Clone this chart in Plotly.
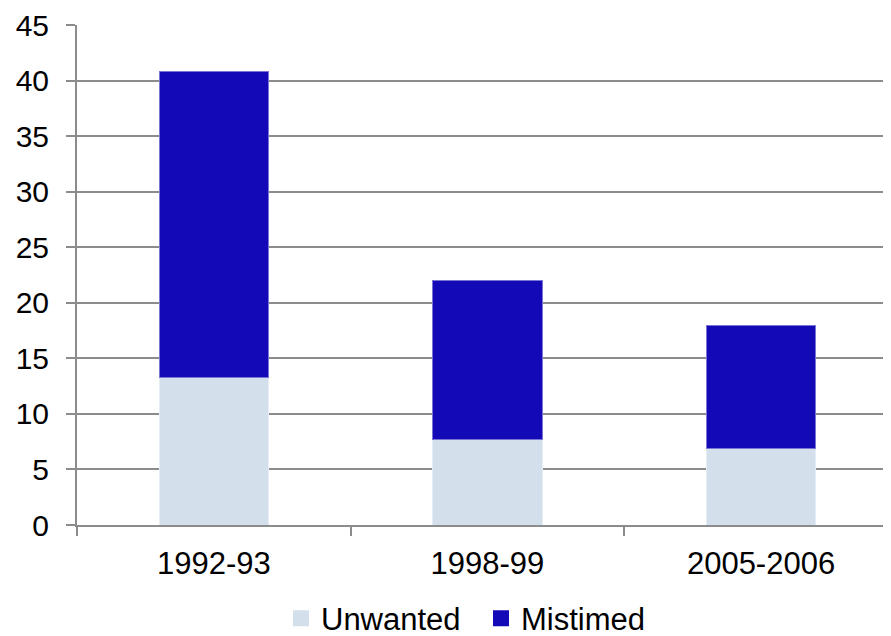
import plotly.graph_objects as go

categories = ["1992-93", "1998-99", "2005-2006"]
unwanted = [13.3, 7.7, 6.9]
mistimed = [27.5, 14.3, 11.1]
y_ticks = [0, 5, 10, 15, 20, 25, 30, 35, 40, 45]

c_unw = "#D3DFEB"
c_mis = "#1409B6"
grey = "#8c8c8c"
font = dict(family="Liberation Sans, Arial, sans-serif", size=30, color="#000000")

fig = go.Figure()
fig.add_trace(go.Bar(x=categories, y=unwanted, name="Unwanted", showlegend=False,
                     marker=dict(color=c_unw, line=dict(width=1, color="#E6EDF5"))))
fig.add_trace(go.Bar(x=categories, y=mistimed, name="Mistimed", showlegend=False,
                     marker=dict(color=c_mis, line=dict(width=1, color="#7A74D6"))))
# legend entries with square swatches
fig.add_trace(go.Scatter(x=[None], y=[None], mode="markers", name="Unwanted",
                         marker=dict(symbol="square", size=16, color=c_unw)))
fig.add_trace(go.Scatter(x=[None], y=[None], mode="markers", name="Mistimed",
                         marker=dict(symbol="square", size=16, color=c_mis)))

# page body has an 8px margin; figure sized to fill the rest of the window
fig.update_layout(
    barmode="stack",
    bargap=0.6,
    width=883, height=628,
    margin=dict(l=69, r=0, t=17, b=111, autoexpand=False),
    plot_bgcolor="white", paper_bgcolor="white",
    font=font,
    showlegend=True,
    legend=dict(orientation="h", x=0.2506, xanchor="left", y=-0.133, yanchor="top",
                font=dict(size=31), itemwidth=30, entrywidth=155, traceorder="normal"),
    xaxis=dict(type="category", range=[-0.5, 2.475], showline=True, linecolor=grey, linewidth=2,
               ticks="outside", tickson="boundaries", ticklen=9, tickcolor=grey, tickwidth=2,
               showgrid=False, tickfont=dict(size=31), ticklabelstandoff=10, automargin=False),
    yaxis=dict(range=[0, 45], tickvals=y_ticks, showline=True, linecolor=grey, linewidth=2,
               ticks="outside", ticklen=9, tickcolor=grey, tickwidth=2,
               showgrid=True, gridcolor=grey, gridwidth=2, zeroline=False,
               tickfont=dict(size=30), ticklabelstandoff=11, automargin=False),
)

fig.write_html("out.html")
